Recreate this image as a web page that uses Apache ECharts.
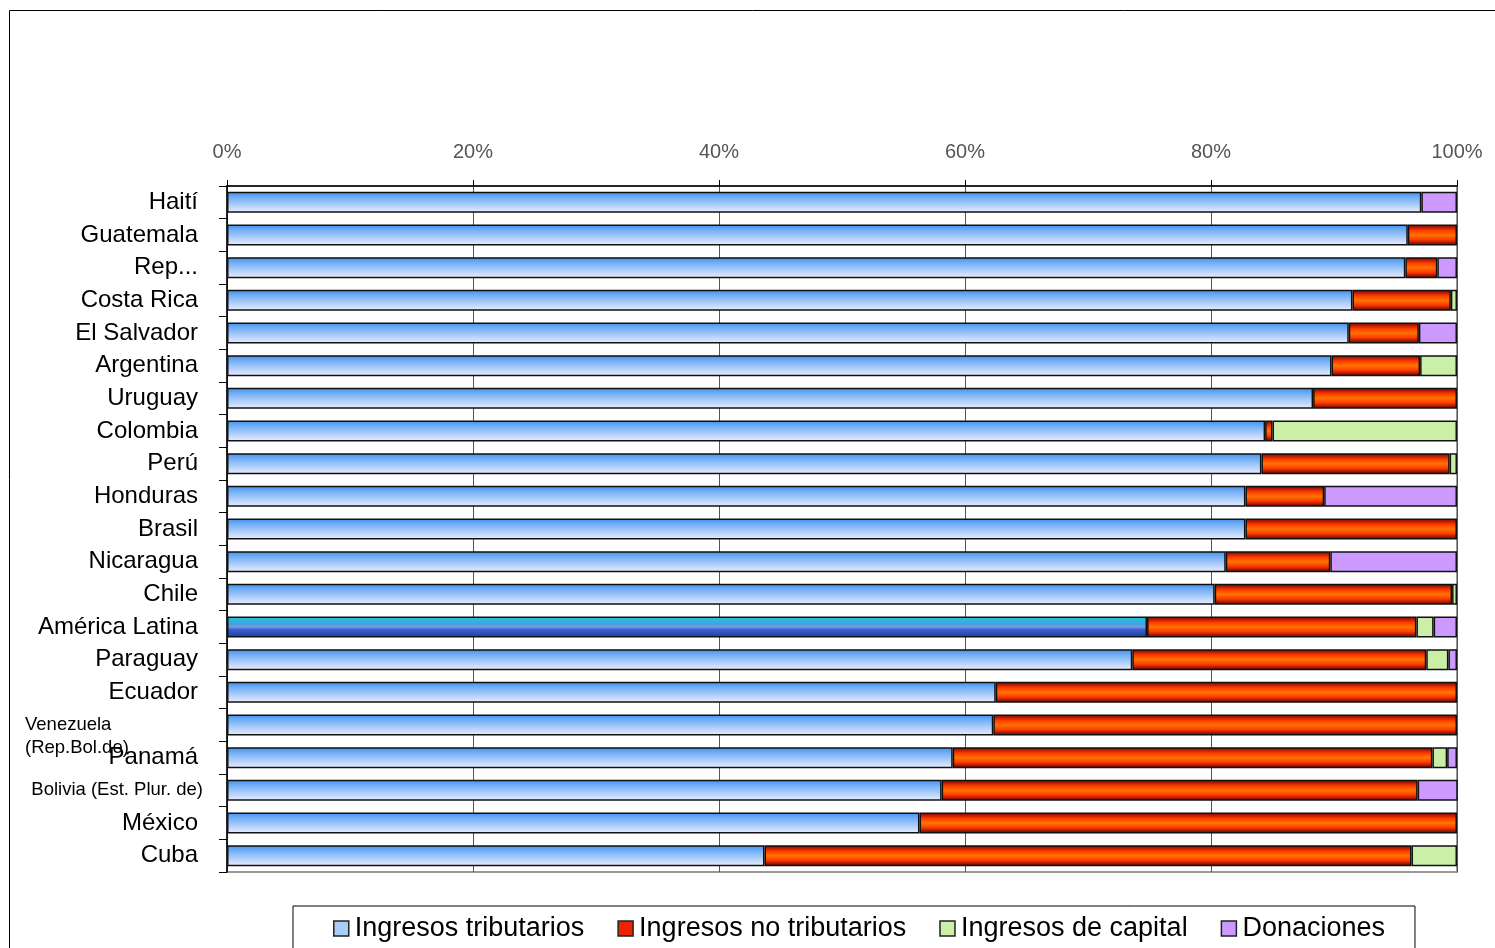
<!DOCTYPE html>
<html><head><meta charset="utf-8">
<script src="https://cdn.jsdelivr.net/npm/echarts@6/dist/echarts.min.js"></script>
<style>html,body{margin:0;padding:0;background:#fff}#c{width:1495px;height:948px}</style>
</head><body><div id="c"></div>
<script>
const categories = ['Haití','Guatemala','Rep...','Costa Rica','El Salvador','Argentina','Uruguay','Colombia','Perú','Honduras','Brasil','Nicaragua','Chile','América Latina','Paraguay','Ecuador','Venezuela (Rep.Bol.de)','Panamá','Bolivia (Est. Plur. de)','México','Cuba'];
const seriesNames = ['Ingresos tributarios','Ingresos no tributarios','Ingresos de capital','Donaciones'];
const tributarios   = [97.1, 96.0, 95.8, 91.5, 91.2, 89.8, 88.3, 84.4, 84.1, 82.8, 82.8, 81.2, 80.3, 74.8, 73.6, 62.5, 62.3, 59.0, 58.1, 56.3, 43.7];
const noTributarios = [0,    4.0,  2.6,  8.0,  5.7,  7.2,  11.7, 0.6,  15.3, 6.4,  17.2, 8.5,  19.3, 21.9, 23.9, 37.5, 37.7, 39.0, 38.7, 43.7, 52.6];
const capital       = [0,    0,    0,    0.5,  0,    3.0,  0,    15.0, 0.6,  0,    0,    0,    0.4,  1.4,  1.8,  0,    0,    1.2,  0,    0,    3.7];
const donaciones    = [2.9,  0,    1.6,  0,    3.1,  0,    0,    0,    0,    10.8, 0,    10.3, 0,    1.9,  0.7,  0,    0,    0.8,  3.3,  0,    0];
const tickLabels = ['0%','20%','40%','60%','80%','100%'];

const blueGrad = new echarts.graphic.LinearGradient(0,0,0,1,[
  {offset:0,color:'#3f8ff0'},{offset:0.3,color:'#78b2f6'},{offset:1,color:'#eceefe'}]);
const latamGrad = new echarts.graphic.LinearGradient(0,0,0,1,[
  {offset:0,color:'#22c4dc'},{offset:0.35,color:'#3aa6e2'},{offset:0.5,color:'#7f96e0'},{offset:0.62,color:'#3a62cc'},{offset:1,color:'#1a3aa8'}]);
const redGrad = new echarts.graphic.LinearGradient(0,0,0,1,[
  {offset:0,color:'#700000'},{offset:0.28,color:'#ff3a00'},{offset:0.5,color:'#ff7400'},{offset:0.72,color:'#ff3a00'},{offset:1,color:'#5a0000'}]);
const greenC = '#ccefa8';
const purpleC = '#cc99ff';

const nz = arr => arr.map(v => v === 0 ? null : v);
const border = {borderColor:'#111', borderWidth:1.5};

const chart = echarts.init(document.getElementById('c'), null, {renderer:'canvas'});
chart.setOption({
  animation:false,
  backgroundColor:'#fff',
  graphic:[{type:'rect', shape:{x:9.5,y:10.5,width:1500,height:1000}, style:{fill:null, stroke:'#000', lineWidth:1}, z:-1}],
  grid:{left:227, right:38, top:186, bottom:76, show:true, borderColor:'#9a9a9a', borderWidth:2},
  legend:{
    left:293, top:906, orient:'horizontal',
    padding:[9,30,40,40], itemGap:33, itemWidth:15, itemHeight:15,
    borderColor:'#000', borderWidth:1, backgroundColor:'#fff',
    textStyle:{fontFamily:'Liberation Sans, Arial', fontSize:27, color:'#000', padding:[0,0,0,1]},
    data:[
      {name:seriesNames[0], icon:'rect', itemStyle:{color:'#a9cdf7', borderColor:'#222', borderWidth:1.5}},
      {name:seriesNames[1], icon:'rect', itemStyle:{color:'#ee2200', borderColor:'#222', borderWidth:1.5}},
      {name:seriesNames[2], icon:'rect', itemStyle:{color:greenC, borderColor:'#222', borderWidth:1.5}},
      {name:seriesNames[3], icon:'rect', itemStyle:{color:purpleC, borderColor:'#222', borderWidth:1.5}}
    ]
  },
  xAxis:{
    type:'value', position:'top', min:0, max:100, interval:20,
    axisLine:{show:true, lineStyle:{color:'#000', width:1.5}},
    axisTick:{show:true, length:6, lineStyle:{color:'#000'}},
    axisLabel:{formatter:(v)=>tickLabels[Math.round(v/20)], fontFamily:'Liberation Sans, Arial', fontSize:20, color:'#555', margin:24},
    splitLine:{show:true, lineStyle:{color:'#555', width:1}}
  },
  yAxis:{
    type:'category', inverse:true, data:categories,
    axisLine:{show:true, lineStyle:{color:'#000', width:1.5}},
    axisTick:{show:true, length:8, lineStyle:{color:'#000'}},
    axisLabel:{
      margin:24, align:'right',
      formatter:(name)=>{
        if (name.startsWith('Venezuela')) {
          const parts = name.split(' ');
          return '{v| }\n{v|'+parts[0]+'}\n{v|'+parts.slice(1).join(' ')+'}';
        }
        if (name.startsWith('Bolivia')) return '{s|'+name+'}';
        return '{n|'+name+'}';
      },
      rich:{
        n:{fontFamily:'Liberation Sans, Arial', fontSize:24, color:'#000', padding:[0,5,0,0]},
        s:{fontFamily:'Liberation Sans, Arial', fontSize:18.5, color:'#000'},
        v:{fontFamily:'Liberation Sans, Arial', fontSize:18.5, color:'#000', lineHeight:23, width:178, align:'left'}
      }
    }
  },
  series:[
    {name:seriesNames[0], type:'bar', stack:'t', barWidth:21,
     itemStyle:Object.assign({color:blueGrad}, border),
     data:tributarios.map((v,i)=> categories[i]==='América Latina' ? {value:v, itemStyle:{color:latamGrad}} : v)},
    {name:seriesNames[1], type:'bar', stack:'t', barWidth:21,
     itemStyle:Object.assign({color:redGrad}, border), data:nz(noTributarios)},
    {name:seriesNames[2], type:'bar', stack:'t', barWidth:21,
     itemStyle:Object.assign({color:greenC}, border), data:nz(capital)},
    {name:seriesNames[3], type:'bar', stack:'t', barWidth:21,
     itemStyle:Object.assign({color:purpleC}, border), data:nz(donaciones)}
  ]
});
</script></body></html>
